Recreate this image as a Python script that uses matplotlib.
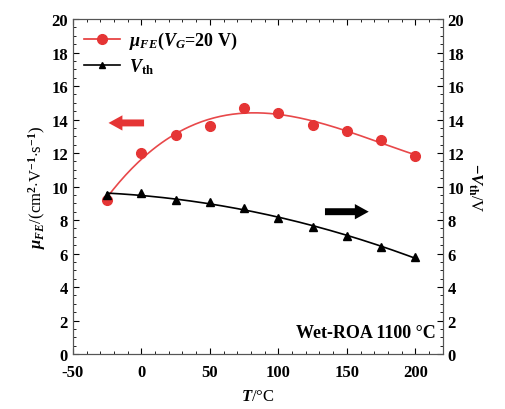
import numpy as np
import matplotlib
matplotlib.use('agg')
import matplotlib.pyplot as plt
from matplotlib.ticker import MultipleLocator

plt.rcParams['font.family'] = ['Liberation Serif', 'DejaVu Serif']
plt.rcParams['font.weight'] = 'bold'
plt.rcParams['axes.unicode_minus'] = False
plt.rcParams['mathtext.fontset'] = 'custom'
plt.rcParams['mathtext.it'] = 'Liberation Serif:italic:bold'
plt.rcParams['mathtext.rm'] = 'Liberation Serif:bold'

# temperature points
temp = [-25, 0, 25, 50, 75, 100, 125, 150, 175, 200]
# field-effect mobility, cm2/(V s)
mu_fe = [9.2, 12.0, 13.1, 13.6, 14.7, 14.4, 13.7, 13.3, 12.8, 11.8]
# threshold voltage, V
v_th = [9.5, 9.6, 9.2, 9.05, 8.7, 8.1, 7.6, 7.05, 6.4, 5.8]

f = plt.figure(figsize=(5.06, 4.10), dpi=100)
ax = f.add_axes([0.144, 0.134, 0.731, 0.817])

# smooth fit lines through the points
tt = np.linspace(-25, 200, 200)
p_mu = np.polyfit(temp, mu_fe, 3)
p_vt = np.polyfit(temp, v_th, 2)
ax.plot(tt, np.polyval(p_mu, tt), color='#e8484a', lw=1.2)
ax.plot(tt, np.polyval(p_vt, tt), color='black', lw=1.2)

ax.plot(temp, mu_fe, 'o', color='#e53535', ms=7)
ax.plot(temp, v_th, '^', color='black', ms=6)

# legend handles with line through marker
h1, = ax.plot([], [], '-o', color='#e53535', ms=7, lw=1.2)
h2, = ax.plot([], [], '-^', color='black', ms=5, lw=1.2)
ax.legend([h1, h2], [r'$\mu_{FE}$($V_G$=20 V)', r'$V_{\rm th}$'],
          loc='upper left', frameon=False, fontsize=13, handlelength=2,
          borderaxespad=0.2, labelspacing=0.3, handletextpad=0.5)

# arrows
arr = 'simple,head_width=1.1,head_length=1.0,tail_width=0.5'
ax.annotate('', xy=(-26, 13.8), xytext=(4, 13.8),
            arrowprops=dict(arrowstyle=arr, color='#e53535', lw=0))
ax.annotate('', xy=(168, 8.5), xytext=(132, 8.5),
            arrowprops=dict(arrowstyle=arr, color='black', lw=0))

ax.text(215, 0.8, 'Wet-ROA 1100 \u00b0C', ha='right', va='bottom', fontsize=13)

ax.set_xlim(-50, 220)
ax.set_ylim(0, 20)
ax.xaxis.set_major_locator(MultipleLocator(50))
ax.xaxis.set_minor_locator(MultipleLocator(10))
ax.yaxis.set_major_locator(MultipleLocator(2))
ax.yaxis.set_minor_locator(MultipleLocator(0.5))
ax.tick_params(which='both', direction='in', top=True, labelsize=12)
ax.tick_params(which='major', length=4)
ax.tick_params(which='minor', length=2)
ax.tick_params(axis='x', pad=7)
ax.set_xlabel('$T$/\u00b0C', fontsize=12, labelpad=6)
ax.set_ylabel(r'$\mu_{FE}$/(cm$^2$$\cdot$V$^{-1}$$\cdot$s$^{-1}$)', fontsize=12, labelpad=2)

ax2 = ax.twinx()
ax2.set_ylim(0, 20)
ax2.yaxis.set_major_locator(MultipleLocator(2))
ax2.yaxis.set_minor_locator(MultipleLocator(0.5))
ax2.tick_params(which='both', direction='in', labelsize=12)
ax2.tick_params(which='major', length=4)
ax2.tick_params(which='minor', length=2)
ax2.set_ylabel(r'$-V_{\rm th}$/V', fontsize=12, rotation=270, labelpad=14)

for a in (ax, ax2):
    for s in a.spines.values():
        s.set_color('#555555')

plt.savefig('out.png', dpi=100)
